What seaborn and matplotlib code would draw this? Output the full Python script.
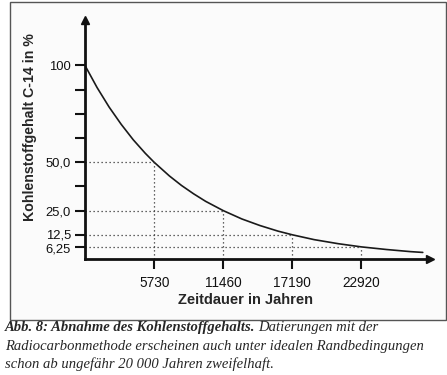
import matplotlib
matplotlib.use("Agg")
import matplotlib.pyplot as plt
import matplotlib.patches as patches
import matplotlib.transforms as mtransforms
import seaborn as sns
import pandas as pd

# Data
years = [0, 1000, 2000, 3000, 4000, 5000, 5730, 7000, 8000, 9000, 10000, 11460,
         13000, 14500, 16000, 17190, 19000, 21000, 22920, 25000, 27000, 28000]
percent = [100, 88.6, 78.5, 69.6, 61.6, 54.6, 50.0, 42.9, 38.0, 33.7, 29.8, 25.0,
           20.7, 17.3, 14.4, 12.5, 10.0, 7.9, 6.25, 4.9, 3.8, 3.4]
half_life_years = [5730, 11460, 17190, 22920]
half_life_values = [50.0, 25.0, 12.5, 6.25]
x_tick_labels = ["5730", "11460", "17190", "22920"]
y_ticks = [100, 50.0, 25.0, 12.5, 6.25]
y_tick_labels = ["100", "50,0", "25,0", "12,5", "6,25"]
y_minor = [87.5, 75, 62.5, 37.5]

sns.set_style("ticks")
plt.rcParams["font.family"] = ["Liberation Sans", "DejaVu Sans"]

W, H = 447, 375
fig = plt.figure(figsize=(W / 100, H / 100), dpi=100)
fig.patch.set_facecolor("white")

# chart frame
frame = patches.Rectangle((10 / W, 1 - 320 / H), 436 / W, 318 / H,
                          transform=fig.transFigure, facecolor="#fbfbfb",
                          edgecolor="#555555", lw=1, zorder=-5)
fig.patches.append(frame)

ax = fig.add_axes([85 / W, 1 - 259 / H, 345 / W, 239 / H])
ax.set_facecolor("none")
ax.set_zorder(2)

df = pd.DataFrame({"t": years, "p": percent})
sns.lineplot(data=df, x="t", y="p", ax=ax, color="#1a1a1a", lw=1.2)

for t, v in zip(half_life_years, half_life_values):
    ax.plot([0, t], [v, v], ls=(0, (1, 2.2)), color="#333333", lw=0.9)
    ax.plot([t, t], [0, v], ls=(0, (1, 2.2)), color="#333333", lw=0.9)

ax.set_xlim(0, 28600)
ax.set_ylim(0, 123.5)

for s in ["top", "right"]:
    ax.spines[s].set_visible(False)
for s in ["left", "bottom"]:
    ax.spines[s].set_linewidth(2)
    ax.spines[s].set_color("#111111")

ax.plot(1, 0, ">", transform=ax.transAxes, clip_on=False, color="#111111", ms=6)
ax.plot(0, 1, "^", transform=ax.transAxes, clip_on=False, color="#111111", ms=6)

ax.set_xticks(half_life_years)
ax.set_xticklabels(x_tick_labels)
ax.set_yticks(y_ticks)
ax.set_yticklabels(y_tick_labels)
ax.set_yticks(y_minor, minor=True)
ax.tick_params(axis="both", which="both", direction="out", length=7, width=1.5,
               color="#111111", labelsize=9.8, labelcolor="#111111", pad=3)
ax.tick_params(axis="y", labelsize=9.4)
ax.tick_params(axis="x", pad=5)

# nudge the two close labels apart slightly
labels = ax.get_yticklabels()
for lab, dy in zip(labels, [0, 0, 0, 1.0, -1.5]):
    if dy:
        lab.set_transform(lab.get_transform() +
                          mtransforms.ScaledTranslation(0, dy / 100, fig.dpi_scale_trans))

ax.set_xlabel("Zeitdauer in Jahren", fontsize=10.5, fontweight="bold")
ax.set_ylabel("Kohlenstoffgehalt C-14 in %", fontsize=10.2, fontweight="bold")
ax.yaxis.set_label_coords(-48 / 345, (259 - 127) / 239)
ax.xaxis.set_label_coords((245 - 85) / 345, -(293 - 259) / 239)

# caption
serif = ["Liberation Serif", "DejaVu Serif"]
fs = 10.5
t1 = fig.text(5 / W, 1 - 331 / H, "Abb. 8: Abnahme des Kohlenstoffgehalts.",
              family=serif, style="italic", weight="bold", fontsize=fs, va="baseline")
fig.canvas.draw()
bb = t1.get_window_extent()
fig.text((bb.x1 + 3) / W, 1 - 331 / H, "Datierungen mit der",
         family=serif, style="italic", fontsize=fs, va="baseline")
fig.text(5 / W, 1 - 350 / H, "Radiocarbonmethode erscheinen auch unter idealen Randbedingungen",
         family=serif, style="italic", fontsize=fs, va="baseline")
fig.text(5 / W, 1 - 368 / H, "schon ab ungefähr 20 000 Jahren zweifelhaft.",
         family=serif, style="italic", fontsize=fs, va="baseline")

fig.savefig("out.png", dpi=100)
